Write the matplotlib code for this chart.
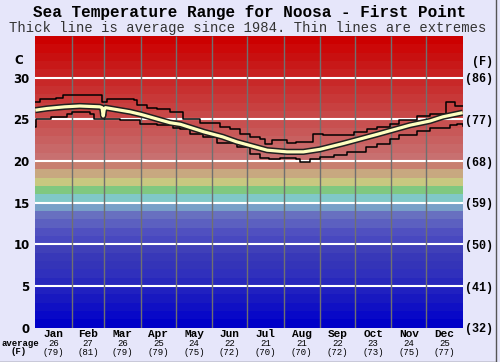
import matplotlib.pyplot as plt

# month info
months = ["Jan", "Feb", "Mar", "Apr", "May", "Jun", "Jul", "Aug", "Sep", "Oct", "Nov", "Dec"]
month_days = [31, 28, 31, 30, 31, 30, 31, 31, 30, 31, 30, 31]
avg_c = [26, 27, 26, 25, 24, 22, 21, 21, 22, 23, 24, 25]
avg_f = [79, 81, 79, 79, 75, 72, 70, 70, 72, 73, 75, 77]

# average line (day of year, deg C)
avg_day = [0, 10, 25, 38, 55, 57, 58, 59, 60, 81, 90, 105, 115, 124, 144, 160, 172,
           185, 198, 215, 229, 243, 263, 292, 320, 337, 348, 365]
avg_temp = [26.1, 26.3, 26.5, 26.6, 26.5, 26.4, 25.4, 26.3, 26.4, 25.9, 25.6, 25.0, 24.6,
            24.4, 23.5, 22.9, 22.3, 21.8, 21.3, 21.1, 21.1, 21.4, 22.1, 23.2, 24.3, 24.8,
            25.3, 25.8]

# extremes, stepped
max_day = [0, 4, 18, 24, 57, 58, 61, 84, 87, 95, 104, 115, 126, 141, 158, 166, 175, 183,
           192, 196, 202, 215, 223, 237, 246, 272, 283, 292, 303, 311, 326, 337, 351,
           358, 365]
max_temp = [27.1, 27.4, 27.6, 27.9, 27.1, 27.1, 27.5, 27.3, 26.7, 26.4, 26.2, 25.9, 25.1,
            24.6, 24.1, 23.8, 23.3, 22.9, 22.6, 22.0, 22.5, 22.2, 22.3, 23.3, 23.1, 23.5,
            23.8, 24.1, 24.5, 24.9, 25.4, 25.6, 27.1, 26.6, 26.6]
min_day = [0, 1, 13, 27, 31, 47, 50, 72, 89, 104, 118, 124, 132, 143, 155, 172, 183, 192,
           200, 209, 223, 226, 235, 243, 255, 266, 282, 292, 303, 311, 326, 337, 354,
           360, 365]
min_temp = [24.1, 25.1, 25.3, 25.6, 25.9, 25.6, 25.1, 24.9, 24.5, 24.3, 24.0, 23.8, 23.3,
            22.9, 22.2, 21.7, 20.9, 20.4, 20.3, 20.4, 20.3, 19.9, 20.2, 20.5, 20.7, 21.1,
            21.7, 22.1, 22.7, 23.1, 23.6, 24.0, 24.3, 24.5, 24.2]

c_ticks = [0, 5, 10, 15, 20, 25, 30]
f_ticks = ["(32)", "(41)", "(50)", "(59)", "(68)", "(77)", "(86)"]

# one colour per 1 degree band, 0..35
band_colors = ["#0000c8", "#0808c8", "#1010c4", "#1818c0", "#2020c0", "#2828bc",
               "#3030bc", "#3434b8", "#3838b8", "#4040b8", "#4848c0", "#5050c0",
               "#5c60c0", "#6870c0", "#78a0c8", "#80c8c8", "#80c880", "#c8c880",
               "#c8a880", "#c88070", "#c87070", "#c86868", "#c86060", "#c85858",
               "#c85050", "#c84848", "#c84040", "#c83838", "#c83030", "#c82828",
               "#c82020", "#c81818", "#c81010", "#cc0808", "#cc0000"]

bg = "#e6e6fa"
W, H = 500, 362
fig = plt.figure(figsize=(5, 3.62), dpi=100, facecolor=bg)
ax = fig.add_axes([35.3 / W, 1 - 327.7 / H, 427.4 / W, 291.7 / H])

for i, c in enumerate(band_colors):
    ax.axhspan(i, i + 1, color=c, lw=0, zorder=0)

for t in c_ticks[1:]:
    ax.axhline(t, color="white", lw=1.5, zorder=1)

edges = [sum(month_days[:i]) for i in range(1, 12)]
ax.vlines(edges, 0, 35, color="#707070", lw=1, zorder=1)

ax.step(max_day, max_temp, where="post", color="black", lw=1.1, zorder=3)
ax.step(min_day, min_temp, where="post", color="black", lw=1.1, zorder=3)
ax.plot(avg_day, avg_temp, color="#202020", lw=4.5, zorder=4, solid_capstyle="butt")
ax.plot(avg_day, avg_temp, color="#ffffc0", lw=2.3, zorder=5, solid_capstyle="butt")

ax.set_xlim(0, 365)
ax.set_ylim(0, 35)
for s in ax.spines.values():
    s.set_visible(False)
ax.set_xticks([])
ax.set_yticks(c_ticks)
ax.set_yticklabels([str(t) for t in c_ticks], fontsize=8.5, fontweight="bold",
                   family="DejaVu Sans")
ax.tick_params(axis="y", length=0, pad=4)

ax2 = ax.twinx()
ax2.set_ylim(0, 35)
ax2.set_yticks(c_ticks)
ax2.set_yticklabels(f_ticks, fontsize=8.5, fontweight="bold", family="Liberation Mono")
ax2.tick_params(axis="y", length=0, pad=2)
for s in ax2.spines.values():
    s.set_visible(False)

mono = "Liberation Mono"
trans = ax.get_xaxis_transform()
start = 0
for i, m in enumerate(months):
    mid = start + month_days[i] / 2
    start += month_days[i]
    ax.text(mid, -6.3 / 291.7, m, transform=trans, ha="center", va="center",
            fontsize=8, fontweight="bold", family=mono)
    ax.text(mid, -15.5 / 291.7, str(avg_c[i]), transform=trans, ha="center",
            va="center", fontsize=6.5, family=mono)
    ax.text(mid, -24.5 / 291.7, "(%d)" % avg_f[i], transform=trans, ha="center",
            va="center", fontsize=6.5, family=mono)

def ftext(x, y, s, **kw):
    fig.text(x / W, 1 - y / H, s, **kw)

ftext(250, 13, "Sea Temperature Range for Noosa - First Point", ha="center", va="center",
      fontsize=11.5, fontweight="bold", family=mono)
ftext(248, 28, "Thick line is average since 1984. Thin lines are extremes", ha="center",
      va="center", fontsize=10, family=mono, color="#333333")
ftext(18.5, 61, "C", ha="center", va="center", fontsize=8.5, fontweight="bold",
      family="DejaVu Sans")
ftext(482, 62, "(F)", ha="center", va="center", fontsize=8.5, fontweight="bold", family=mono)
ftext(2, 343, "average", ha="left", va="center", fontsize=6.5, fontweight="bold", family=mono)
ftext(19, 352, "(F)", ha="center", va="center", fontsize=6.5, fontweight="bold", family=mono)

# frame
fig.add_artist(plt.Line2D([496 / W, 496 / W], [0, 1], color="#555555", lw=1))
fig.add_artist(plt.Line2D([0, 496 / W], [0.5 / H, 0.5 / H], color="#555555", lw=1))

fig.savefig("out.png", dpi=100, facecolor=bg)
